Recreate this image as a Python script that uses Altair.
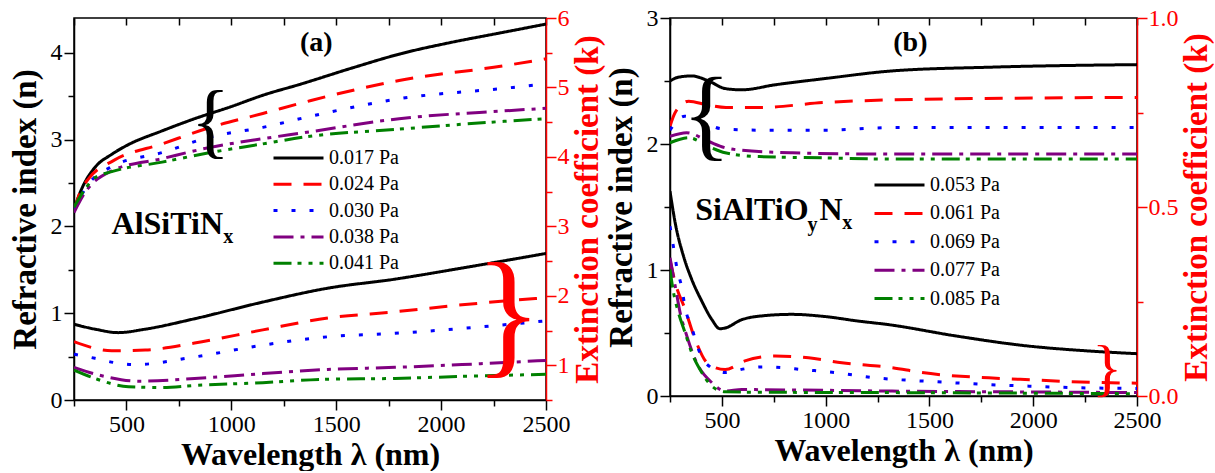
import altair as alt
import pandas as pd

# ---------------- data ----------------
SERIES_A = ["0.017 Pa", "0.024 Pa", "0.030 Pa", "0.038 Pa", "0.041 Pa"]
SERIES_B = ["0.053 Pa", "0.061 Pa", "0.069 Pa", "0.077 Pa", "0.085 Pa"]

# panel (a) refractive index n
A_N1_WL = [250, 290, 350, 430, 500, 670, 825, 1000, 1150, 1333, 1570, 1810, 2050, 2286, 2500]
A_N1 = [2.20, 2.45, 2.68, 2.83, 2.93, 3.10, 3.24, 3.38, 3.51, 3.64, 3.82, 3.99, 4.12, 4.23, 4.33]
A_N2_WL = [250, 280, 320, 440, 670, 900, 1150, 1380, 1800, 2300, 2500]
A_N2 = [2.18, 2.40, 2.55, 2.76, 2.95, 3.14, 3.30, 3.45, 3.68, 3.85, 3.93]
A_N3_WL = [250, 300, 440, 670, 900, 1150, 1400, 1800, 2300, 2500]
A_N3 = [2.18, 2.42, 2.70, 2.85, 3.03, 3.14, 3.28, 3.47, 3.59, 3.64]
A_N4_WL = [250, 300, 430, 670, 900, 1150, 1350, 1800, 2300, 2500]
A_N4 = [2.16, 2.38, 2.64, 2.78, 2.91, 3.01, 3.08, 3.24, 3.33, 3.36]
A_N5_WL = [250, 300, 350, 430, 670, 900, 1150, 1350, 1800, 2300, 2500]
A_N5 = [2.22, 2.42, 2.56, 2.63, 2.74, 2.85, 2.95, 3.03, 3.12, 3.21, 3.24]

# panel (a) extinction coefficient k
A_K1_WL = [250, 350, 460, 590, 825, 1150, 1460, 1780, 2100, 2500]
A_K1 = [1.59, 1.52, 1.47, 1.52, 1.67, 1.91, 2.11, 2.24, 2.40, 2.61]
A_K2_WL = [250, 430, 590, 825, 1150, 1460, 1780, 2100, 2450, 2500]
A_K2 = [1.34, 1.21, 1.22, 1.32, 1.51, 1.68, 1.77, 1.87, 1.96, 1.97]
A_K3_WL = [250, 350, 440, 540, 825, 1150, 1460, 1780, 2100, 2500]
A_K3 = [1.16, 1.10, 1.04, 1.01, 1.12, 1.29, 1.41, 1.46, 1.53, 1.64]
A_K4_WL = [250, 395, 560, 825, 1150, 1460, 1780, 2100, 2500]
A_K4 = [0.97, 0.84, 0.77, 0.81, 0.88, 0.94, 0.97, 1.01, 1.07]
A_K5_WL = [250, 350, 510, 670, 825, 1150, 1460, 1780, 2100, 2500]
A_K5 = [0.93, 0.81, 0.69, 0.68, 0.71, 0.75, 0.80, 0.81, 0.84, 0.87]

# panel (b) refractive index n
B_N1_WL = [250, 290, 355, 436, 516, 595, 757, 1000, 1320, 1800, 2500]
B_N1 = [2.50, 2.53, 2.54, 2.50, 2.44, 2.43, 2.47, 2.52, 2.58, 2.61, 2.63]
B_N2_WL = [250, 275, 340, 430, 520, 680, 1000, 1320, 2500]
B_N2 = [2.14, 2.25, 2.34, 2.31, 2.29, 2.29, 2.33, 2.35, 2.37]
B_N3_WL = [250, 320, 400, 500, 680, 1000, 1320, 2500]
B_N3 = [2.11, 2.22, 2.18, 2.12, 2.11, 2.11, 2.13, 2.13]
B_N4_WL = [250, 330, 436, 516, 595, 840, 1320, 2500]
B_N4 = [2.06, 2.09, 2.02, 1.97, 1.95, 1.93, 1.92, 1.92]
B_N5_WL = [250, 340, 436, 516, 680, 1000, 1320, 2500]
B_N5 = [2.01, 2.05, 1.98, 1.93, 1.90, 1.89, 1.88, 1.88]

# panel (b) extinction coefficient k
B_K1_WL = [250, 275, 315, 355, 403, 452, 490, 516, 596, 677, 837, 1000, 1160, 1300, 1626, 1946, 2270, 2500]
B_K1 = [0.542, 0.458, 0.370, 0.308, 0.251, 0.202, 0.178, 0.180, 0.202, 0.211, 0.216, 0.210, 0.198, 0.189, 0.159, 0.134, 0.119, 0.112]
B_K2_WL = [250, 275, 323, 371, 436, 516, 611, 757, 918, 1078, 1320, 1463, 1786, 2027, 2172, 2500]
B_K2 = [0.360, 0.300, 0.229, 0.150, 0.084, 0.070, 0.093, 0.106, 0.101, 0.088, 0.075, 0.062, 0.048, 0.042, 0.038, 0.034]
B_K3_WL = [250, 266, 283, 307, 323, 355, 384, 428, 516, 611, 700, 790, 886, 1047, 1240, 1330, 1520, 1754, 1980, 2205, 2500]
B_K3 = [0.449, 0.397, 0.339, 0.286, 0.233, 0.181, 0.128, 0.084, 0.062, 0.072, 0.077, 0.075, 0.070, 0.062, 0.048, 0.044, 0.038, 0.031, 0.026, 0.022, 0.020]
B_K4_WL = [250, 275, 299, 331, 371, 452, 516, 596, 837, 1320, 1900, 2500]
B_K4 = [0.366, 0.291, 0.220, 0.159, 0.097, 0.035, 0.013, 0.017, 0.016, 0.013, 0.011, 0.009]
B_K5_WL = [250, 266, 291, 323, 355, 403, 452, 516, 677, 1320, 2500]
B_K5 = [0.335, 0.277, 0.220, 0.167, 0.114, 0.062, 0.026, 0.011, 0.010, 0.009, 0.006]

# ---------------- styling ----------------
FONT = "Liberation Serif"
COLORS = ["#000000", "#ff0000", "#0000ff", "#800080", "#008000"]
DASHES = [[1, 0], [18, 12], [4, 14], [20, 7, 4, 7], [18, 6, 4, 7, 4, 7]]
RED = "#ff0000"


def frame(series, pairs):
    rows = []
    for name, (wls, vals) in zip(series, pairs):
        for w, v in zip(wls, vals):
            rows.append({"wl": w, "v": v, "s": name})
    return pd.DataFrame(rows)


a_n = frame(SERIES_A, [(A_N1_WL, A_N1), (A_N2_WL, A_N2), (A_N3_WL, A_N3), (A_N4_WL, A_N4), (A_N5_WL, A_N5)])
a_k = frame(SERIES_A, [(A_K1_WL, A_K1), (A_K2_WL, A_K2), (A_K3_WL, A_K3), (A_K4_WL, A_K4), (A_K5_WL, A_K5)])
b_n = frame(SERIES_B, [(B_N1_WL, B_N1), (B_N2_WL, B_N2), (B_N3_WL, B_N3), (B_N4_WL, B_N4), (B_N5_WL, B_N5)])
b_k = frame(SERIES_B, [(B_K1_WL, B_K1), (B_K2_WL, B_K2), (B_K3_WL, B_K3), (B_K4_WL, B_K4), (B_K5_WL, B_K5)])

XVALS = list(range(250, 2501, 250))


def xscale():
    return alt.Scale(domain=[250, 2500], nice=False, zero=False)


def cond_size(test, big, small):
    return {"condition": {"test": test, "value": big}, "value": small}


def panel(n_df, k_df, series, n_dom, n_vals, k_dom, k_vals, k_test, k_fmt,
          legend_x, legend_y, row_pad, w, h, texts):
    legend = alt.Legend(orient="none", legendX=legend_x, legendY=legend_y, title=None,
                        symbolType="stroke", symbolSize=2500, symbolStrokeWidth=3,
                        labelFont=FONT, labelFontSize=20, labelColor="black",
                        clipHeight=20, rowPadding=row_pad, labelOffset=4, padding=0)
    color = alt.Color("s:N", scale=alt.Scale(domain=series, range=COLORS), legend=legend)
    dash = alt.StrokeDash("s:N", scale=alt.Scale(domain=series, range=DASHES), legend=legend)

    x_bottom = alt.Axis(orient="bottom", title="Wavelength λ (nm)", values=XVALS, format="d",
                        labelExpr="datum.value % 500 === 0 ? datum.label : ''",
                        tickSize=cond_size("datum.value % 500 === 0", 10, 6),
                        labelPadding=2, titlePadding=3, titleFontSize=32)
    x_top = alt.Axis(orient="top", title=None, labels=False, values=XVALS, tickSize=7,
                     offset=-7, domain=False, minExtent=0, maxExtent=0)
    y_left = alt.Axis(orient="left", title="Refractive index (n)", values=n_vals, format=".0f",
                      labelExpr="datum.value % 1 === 0 ? datum.label : ''",
                      tickSize=cond_size("datum.value % 1 === 0", 10, 6),
                      labelPadding=2, titlePadding=8)
    y_right = alt.Axis(orient="right", title="Extinction coefficient (k)", values=k_vals,
                       format=k_fmt, labelExpr=f"{k_test} ? datum.label : ''",
                       tickSize=cond_size(k_test, 10, 6),
                       labelColor=RED, titleColor=RED, domainColor=RED, tickColor=RED,
                       titleAngle=270, titleBaseline="top", labelPadding=1, titlePadding=2)

    n_lines = alt.Chart(n_df).mark_line(interpolate="monotone", strokeWidth=3, clip=True).encode(
        x=alt.X("wl:Q", scale=xscale(), axis=x_bottom),
        y=alt.Y("v:Q", scale=alt.Scale(domain=n_dom, nice=False, zero=False), axis=y_left),
        color=color, strokeDash=dash,
    )
    k_lines = alt.Chart(k_df).mark_line(interpolate="monotone", strokeWidth=3, clip=True).encode(
        x=alt.X("wl:Q", scale=xscale(), axis=x_top),
        y=alt.Y("v:Q", scale=alt.Scale(domain=k_dom, nice=False, zero=False), axis=y_right),
        color=color, strokeDash=dash,
    )
    layers = [n_lines, k_lines]
    for t in texts:
        df = pd.DataFrame({"wl": [t["wl"]], "v": [t["v"]], "t": [t["t"]]})
        layers.append(
            alt.Chart(df).mark_text(font=FONT, fontSize=t["size"], fontWeight=t.get("weight", "bold"),
                                    align=t.get("align", "left"), baseline=t.get("baseline", "alphabetic"),
                                    color=t.get("color", "black")).encode(
                x=alt.X("wl:Q", scale=xscale(), axis=None),
                y=alt.Y("v:Q", scale=alt.Scale(domain=n_dom, nice=False, zero=False), axis=None),
                text="t:N",
            )
        )
    return alt.layer(*layers).resolve_scale(y="independent").resolve_axis(
        x="independent", y="independent").properties(width=w, height=h)


texts_a = [
    {"t": "(a)", "wl": 1405, "v": 4.11, "size": 28, "align": "center", "baseline": "middle"},
    {"t": "AlSiTiN", "wl": 429, "v": 1.915, "size": 32},
    {"t": "x", "wl": 962, "v": 1.81, "size": 20},
    {"t": "{", "wl": 900, "v": 3.19, "size": 82, "weight": "normal", "align": "center", "baseline": "middle"},
    {"t": "}", "wl": 2320, "v": 0.957, "size": 140, "weight": "normal", "align": "center",
     "baseline": "middle", "color": RED},
]
texts_b = [
    {"t": "(b)", "wl": 1408, "v": 2.80, "size": 28, "align": "center", "baseline": "middle"},
    {"t": "SiAlTiO", "wl": 372, "v": 1.40, "size": 32},
    {"t": "y", "wl": 912, "v": 1.311, "size": 20},
    {"t": "N", "wl": 970, "v": 1.40, "size": 32},
    {"t": "x", "wl": 1080, "v": 1.327, "size": 20},
    {"t": "{", "wl": 426, "v": 2.215, "size": 101, "weight": "normal", "align": "center", "baseline": "middle"},
    {"t": "}", "wl": 2356, "v": 0.209, "size": 63, "weight": "normal", "align": "center",
     "baseline": "middle", "color": RED},
]

pa = panel(a_n, a_k, SERIES_A, [0, 4.4], [x / 2 for x in range(0, 9)],
           [0.5, 6], [x / 2 for x in range(1, 13)], "datum.value % 1 === 0", ".0f",
           198, 130, 6.3, 472, 382, texts_a)
pb = panel(b_n, b_k, SERIES_B, [0, 3], [x / 2 for x in range(0, 7)],
           [0, 1], [x / 4 for x in range(0, 5)], "datum.value % 0.5 === 0", ".1f",
           203, 157, 8.4, 467, 378, texts_b)

chart = alt.hconcat(pa, pb, spacing=-1).resolve_scale(
    color="independent", strokeDash="independent"
).resolve_legend(color="independent", strokeDash="independent").properties(
    padding={"left": 8, "top": 5, "right": 0, "bottom": 0}
).configure_view(stroke="black", strokeWidth=1.5).configure_axis(
    labelFont=FONT, titleFont=FONT, labelFontSize=24, titleFontSize=33,
    titleFontWeight="bold", labelColor="black", titleColor="black",
    domainColor="black", tickColor="black", domainWidth=1.5, tickWidth=1.5,
    grid=False, labelFlush=False,
).configure_legend(labelFont=FONT, labelFontSize=20, labelColor="black")

chart.save("out.html", embed_options={"renderer": "svg", "actions": False})
